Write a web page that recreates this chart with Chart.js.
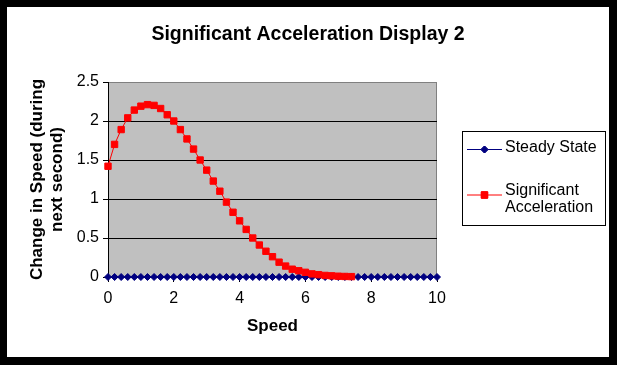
<!DOCTYPE html>
<html>
<head>
<meta charset="utf-8">
<script src="https://cdn.jsdelivr.net/npm/chart.js@4"></script>
<style>
  html, body { margin: 0; padding: 0; background: #000; }
  #wrap { position: relative; width: 617px; height: 365px; }
</style>
</head>
<body>
<div id="wrap"><canvas id="myChart" width="617" height="365"></canvas></div>
<script>
const chartTitle = "Significant Acceleration Display 2";
const xTitle = "Speed";
const yTitle = ["Change in Speed (during", "next second)"];

// speed values for each series
const steadySpeeds = [0, 0.2, 0.4, 0.6, 0.8, 1, 1.2, 1.4, 1.6, 1.8, 2, 2.2, 2.4, 2.6, 2.8, 3, 3.2, 3.4, 3.6, 3.8,
  4, 4.2, 4.4, 4.6, 4.8, 5, 5.2, 5.4, 5.6, 5.8, 6, 6.2, 6.4, 6.6, 6.8, 7, 7.2, 7.4, 7.6, 7.8,
  8, 8.2, 8.4, 8.6, 8.8, 9, 9.2, 9.4, 9.6, 9.8, 10];
const steadyValues = [0, 0, 0, 0, 0, 0, 0, 0, 0, 0, 0, 0, 0, 0, 0, 0, 0, 0, 0, 0,
  0, 0, 0, 0, 0, 0, 0, 0, 0, 0, 0, 0, 0, 0, 0, 0, 0, 0, 0, 0,
  0, 0, 0, 0, 0, 0, 0, 0, 0, 0, 0];

const accelSpeeds = [0, 0.2, 0.4, 0.6, 0.8, 1, 1.2, 1.4, 1.6, 1.8, 2, 2.2, 2.4, 2.6, 2.8, 3, 3.2, 3.4, 3.6, 3.8,
  4, 4.2, 4.4, 4.6, 4.8, 5, 5.2, 5.4, 5.6, 5.8, 6, 6.2, 6.4, 6.6, 6.8, 7, 7.2, 7.4];
const accelValues = [1.42, 1.70, 1.89, 2.04, 2.14, 2.19, 2.21, 2.20, 2.16, 2.08, 2.00, 1.89, 1.77, 1.64, 1.50, 1.37, 1.23, 1.10, 0.96, 0.83,
  0.72, 0.61, 0.50, 0.41, 0.33, 0.26, 0.19, 0.14, 0.10, 0.08, 0.06, 0.04, 0.03, 0.02, 0.015, 0.01, 0.007, 0.005];

const seriesNames = ["Steady State", ["Significant", "Acceleration"]];

const fontFamily = "'Liberation Sans', Arial, sans-serif";

function toPoints(xs, ys) {
  return xs.map((x, i) => ({ x: x, y: ys[i] }));
}

// white frame, grey plot area, title and legend box
const framePlugin = {
  id: "frame",
  beforeDraw(chart) {
    const ctx = chart.ctx;
    const a = chart.chartArea;
    ctx.save();
    ctx.fillStyle = "#000";
    ctx.fillRect(0, 0, chart.width, chart.height);
    ctx.fillStyle = "#fff";
    ctx.fillRect(7, 7, 602, 350);
    ctx.fillStyle = "#c0c0c0";
    ctx.fillRect(a.left, a.top, a.right - a.left, a.bottom - a.top);
    ctx.strokeStyle = "#808080";
    ctx.lineWidth = 1;
    ctx.beginPath();
    ctx.moveTo(a.right - 0.5, a.top);
    ctx.lineTo(a.right - 0.5, a.bottom);
    ctx.stroke();

    ctx.fillStyle = "#000";
    ctx.font = "bold 19.5px " + fontFamily;
    ctx.textAlign = "center";
    ctx.textBaseline = "alphabetic";
    ctx.fillText(chartTitle, 308, 39.5);
    ctx.restore();
  },
  afterDraw(chart) {
    const ctx = chart.ctx;
    ctx.save();
    ctx.fillStyle = "#fff";
    ctx.fillRect(462, 131, 143, 94);
    ctx.strokeStyle = "#000";
    ctx.lineWidth = 1;
    ctx.strokeRect(462.5, 131.5, 143, 94);

    const rows = [149, 194.5];
    const baselines = [152, 195];
    chart.data.datasets.forEach((ds, i) => {
      const y = rows[i];
      ctx.strokeStyle = ds.borderColor;
      ctx.lineWidth = 1;
      ctx.beginPath();
      ctx.moveTo(467, y + 0.5);
      ctx.lineTo(502, y + 0.5);
      ctx.stroke();
      Chart.helpers.drawPoint(ctx, {
        pointStyle: ds.pointStyle,
        radius: ds.pointRadius,
        borderWidth: 1
      }, 484.5, y + 0.5);
      ctx.fillStyle = ds.pointBackgroundColor;
      ctx.strokeStyle = ds.pointBorderColor;
      ctx.fill();
      ctx.stroke();

      ctx.fillStyle = "#000";
      ctx.font = "16px " + fontFamily;
      ctx.textAlign = "left";
      ctx.textBaseline = "alphabetic";
      const lines = Array.isArray(seriesNames[i]) ? seriesNames[i] : [seriesNames[i]];
      lines.forEach((t, k) => ctx.fillText(t, 505, baselines[i] + k * 17));
    });
    ctx.restore();
  }
};

const ctx = document.getElementById("myChart").getContext("2d");
const chart = new Chart(ctx, {
  type: "line",
  data: {
    datasets: [
      {
        label: "Steady State",
        data: toPoints(steadySpeeds, steadyValues),
        borderColor: "#000080",
        backgroundColor: "#000080",
        pointBackgroundColor: "#000080",
        pointBorderColor: "#000080",
        pointStyle: "rectRot",
        pointRadius: 3.5,
        borderWidth: 1,
        order: 1,
        clip: false
      },
      {
        label: "Significant Acceleration",
        data: toPoints(accelSpeeds, accelValues),
        borderColor: "#ff0000",
        backgroundColor: "#ff0000",
        pointBackgroundColor: "#ff0000",
        pointBorderColor: "#ff0000",
        pointStyle: "rect",
        pointRadius: 4.5,
        borderWidth: 1,
        order: 0,
        clip: false
      }
    ]
  },
  options: {
    responsive: false,
    animation: false,
    layout: { padding: { top: 82, right: 180, bottom: 20, left: 0 } },
    plugins: {
      legend: { display: false },
      title: { display: false },
      tooltip: { enabled: false }
    },
    scales: {
      x: {
        type: "linear",
        min: 0,
        max: 10,
        afterFit: (scale) => { scale.height = 68; },
        ticks: {
          stepSize: 2,
          color: "#000",
          padding: 7,
          maxRotation: 0,
          font: { family: fontFamily, size: 16 }
        },
        grid: {
          drawOnChartArea: false,
          drawTicks: true,
          tickLength: 5,
          tickColor: "#000"
        },
        border: { color: "#000", width: 1 },
        title: {
          display: true,
          text: xTitle,
          color: "#000",
          padding: { top: 0, bottom: 8 },
          font: { family: fontFamily, size: 17, weight: "bold" }
        }
      },
      y: {
        min: 0,
        max: 2.5,
        afterFit: (scale) => { scale.width = 108; },
        ticks: {
          stepSize: 0.5,
          color: "#000",
          padding: 4,
          callback: (v) => String(v),
          font: { family: fontFamily, size: 16 }
        },
        grid: {
          color: (c) => (c.tick && c.tick.value === 2.5 ? "#808080" : "#000"),
          tickColor: "#000",
          tickLength: 5,
          lineWidth: 1
        },
        border: { color: "#000", width: 1 },
        title: {
          display: true,
          text: yTitle,
          color: "#000",
          padding: { top: 27, bottom: 0 },
          font: { family: fontFamily, size: 17, weight: "bold", lineHeight: 1.18 }
        }
      }
    }
  },
  plugins: [framePlugin]
});
</script>
</body>
</html>
